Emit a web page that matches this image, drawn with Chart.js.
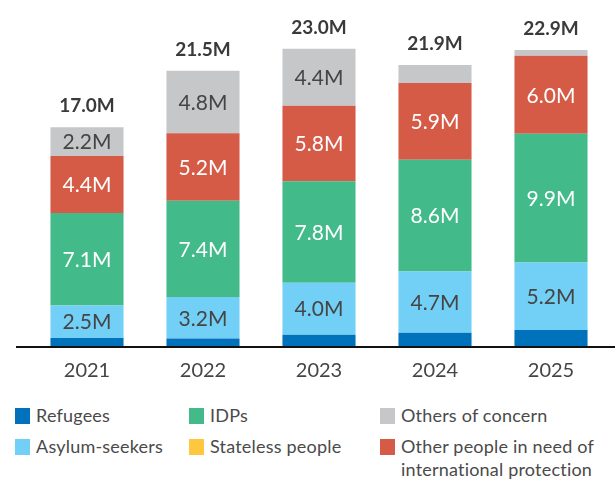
<!DOCTYPE html>
<html>
<head>
<meta charset="utf-8">
<script src="https://cdn.jsdelivr.net/npm/chart.js@4.4.0/dist/chart.umd.min.js"></script>
<style>
  body { margin: 0; background: #fff; font-family: Lato, "Open Sans", sans-serif; }
  #wrap { position: relative; width: 615px; height: 479px; overflow: hidden; }
  #chartBox { position: absolute; left: 0; top: 0; width: 615px; height: 395px; }
  #legend { position: absolute; left: 0; top: 404px; width: 615px; }
  .item { position: absolute; display: flex; align-items: flex-start; font-size: 18px; letter-spacing: 0.2px; color: #4a4a4a; line-height: 23px; }
  .box { width: 15px; height: 16px; margin-top: 4px; margin-right: 6px; flex: none; }
</style>
</head>
<body>
<div id="wrap">
  <div id="chartBox"><canvas id="chart"></canvas></div>
  <div id="legend"></div>
</div>
<script>
// data (millions)
const years = ['2021', '2022', '2023', '2024', '2025'];
const refugees = [0.7, 0.65, 0.95, 1.1, 1.3];
const asylumSeekers = [2.5, 3.2, 4.0, 4.7, 5.2];
const idps = [7.1, 7.4, 7.8, 8.6, 9.9];
const stateless = [0, 0, 0, 0, 0];
const otherInNeed = [4.4, 5.2, 5.8, 5.9, 6.0];
const othersOfConcern = [2.2, 4.8, 4.4, 1.4, 0.45];
const totalLabels = ['17.0M', '21.5M', '23.0M', '21.9M', '22.9M'];

const COLORS = {
    refugees: '#0071BB',
    asylum: '#72D0F7',
    idps: '#42BA8A',
    stateless: '#FFC740',
    others: '#C6C7C9',
    otherNeed: '#D55B47'
};

// stacking order bottom -> top
const datasets = [
    { label: 'Refugees', data: refugees, backgroundColor: COLORS.refugees, textColor: null },
    { label: 'Asylum-seekers', data: asylumSeekers, backgroundColor: COLORS.asylum, textColor: '#454545' },
    { label: 'IDPs', data: idps, backgroundColor: COLORS.idps, textColor: '#ffffff' },
    { label: 'Stateless people', data: stateless, backgroundColor: COLORS.stateless, textColor: null },
    { label: 'Other people in need of international protection', data: otherInNeed, backgroundColor: COLORS.otherNeed, textColor: '#ffffff' },
    { label: 'Others of concern', data: othersOfConcern, backgroundColor: COLORS.others, textColor: '#454545' }
];

// labels inside segments + totals on top
const segmentLabels = {
    id: 'segmentLabels',
    afterDatasetsDraw(chart) {
        const ctx = chart.ctx;
        ctx.save();
        ctx.textAlign = 'center';
        ctx.textBaseline = 'middle';
        chart.data.datasets.forEach((ds, di) => {
            if (!ds.textColor) return;
            const meta = chart.getDatasetMeta(di);
            meta.data.forEach((bar, i) => {
                const h = Math.abs(bar.base - bar.y);
                if (h < 22) return;
                ctx.font = '21px Lato, "Open Sans", sans-serif';
                ctx.fillStyle = ds.textColor;
                ctx.fillText(ds.data[i].toFixed(1) + 'M', bar.x, (bar.y + bar.base) / 2 + 1);
            });
        });
        // totals
        const topMeta = chart.getDatasetMeta(chart.data.datasets.length - 1);
        ctx.font = 'bold 19px Lato, "Open Sans", sans-serif';
        ctx.fillStyle = '#3a3a3a';
        topMeta.data.forEach((bar, i) => {
            ctx.fillText(totalLabels[i], bar.x, bar.y - 21);
        });
        ctx.restore();
    }
};

// black baseline running almost the full width
const baseline = {
    id: 'baseline',
    afterDatasetsDraw(chart) {
        const ctx = chart.ctx;
        const y = chart.scales.y.getPixelForValue(0);
        ctx.save();
        ctx.strokeStyle = '#111';
        ctx.lineWidth = 2;
        ctx.beginPath();
        ctx.moveTo(16, y);
        ctx.lineTo(615, y);
        ctx.stroke();
        ctx.restore();
    }
};

new Chart(document.getElementById('chart').getContext('2d'), {
    type: 'bar',
    data: {
        labels: years,
        datasets: datasets.map(d => ({
            label: d.label,
            data: d.data,
            backgroundColor: d.backgroundColor,
            textColor: d.textColor,
            borderWidth: 0,
            barPercentage: 0.63,
            categoryPercentage: 1
        }))
    },
    options: {
        responsive: true, maintainAspectRatio: false,
        animation: false,
        layout: { padding: { left: 29, right: 6, top: 22, bottom: 0 } },
        plugins: {
            legend: { display: false },
            tooltip: { enabled: false }
        },
        scales: {
            x: {
                stacked: true,
                grid: { display: false, drawTicks: false },
                border: { display: false },
                ticks: { padding: 12, color: '#454545', font: { family: 'Lato', size: 20 } }
            },
            y: {
                stacked: true, display: false,
                min: 0, max: 25
            }
        }
    },
    plugins: [segmentLabels, baseline]
});

// legend laid out in columns like the original
const legendItems = [
    { text: 'Refugees', color: COLORS.refugees, x: 15, y: 0 },
    { text: 'Asylum-seekers', color: COLORS.asylum, x: 15, y: 31 },
    { text: 'IDPs', color: COLORS.idps, x: 189, y: 0 },
    { text: 'Stateless people', color: COLORS.stateless, x: 189, y: 31 },
    { text: 'Others of concern', color: COLORS.others, x: 380, y: 0 },
    { text: 'Other people in need of<br>international protection', color: COLORS.otherNeed, x: 380, y: 31 }
];
const legendEl = document.getElementById('legend');
legendItems.forEach(item => {
    const div = document.createElement('div');
    div.className = 'item';
    div.style.left = item.x + 'px';
    div.style.top = item.y + 'px';
    div.innerHTML = '<span class="box" style="background:' + item.color + '"></span><span>' + item.text + '</span>';
    legendEl.appendChild(div);
});
</script>
</body>
</html>
